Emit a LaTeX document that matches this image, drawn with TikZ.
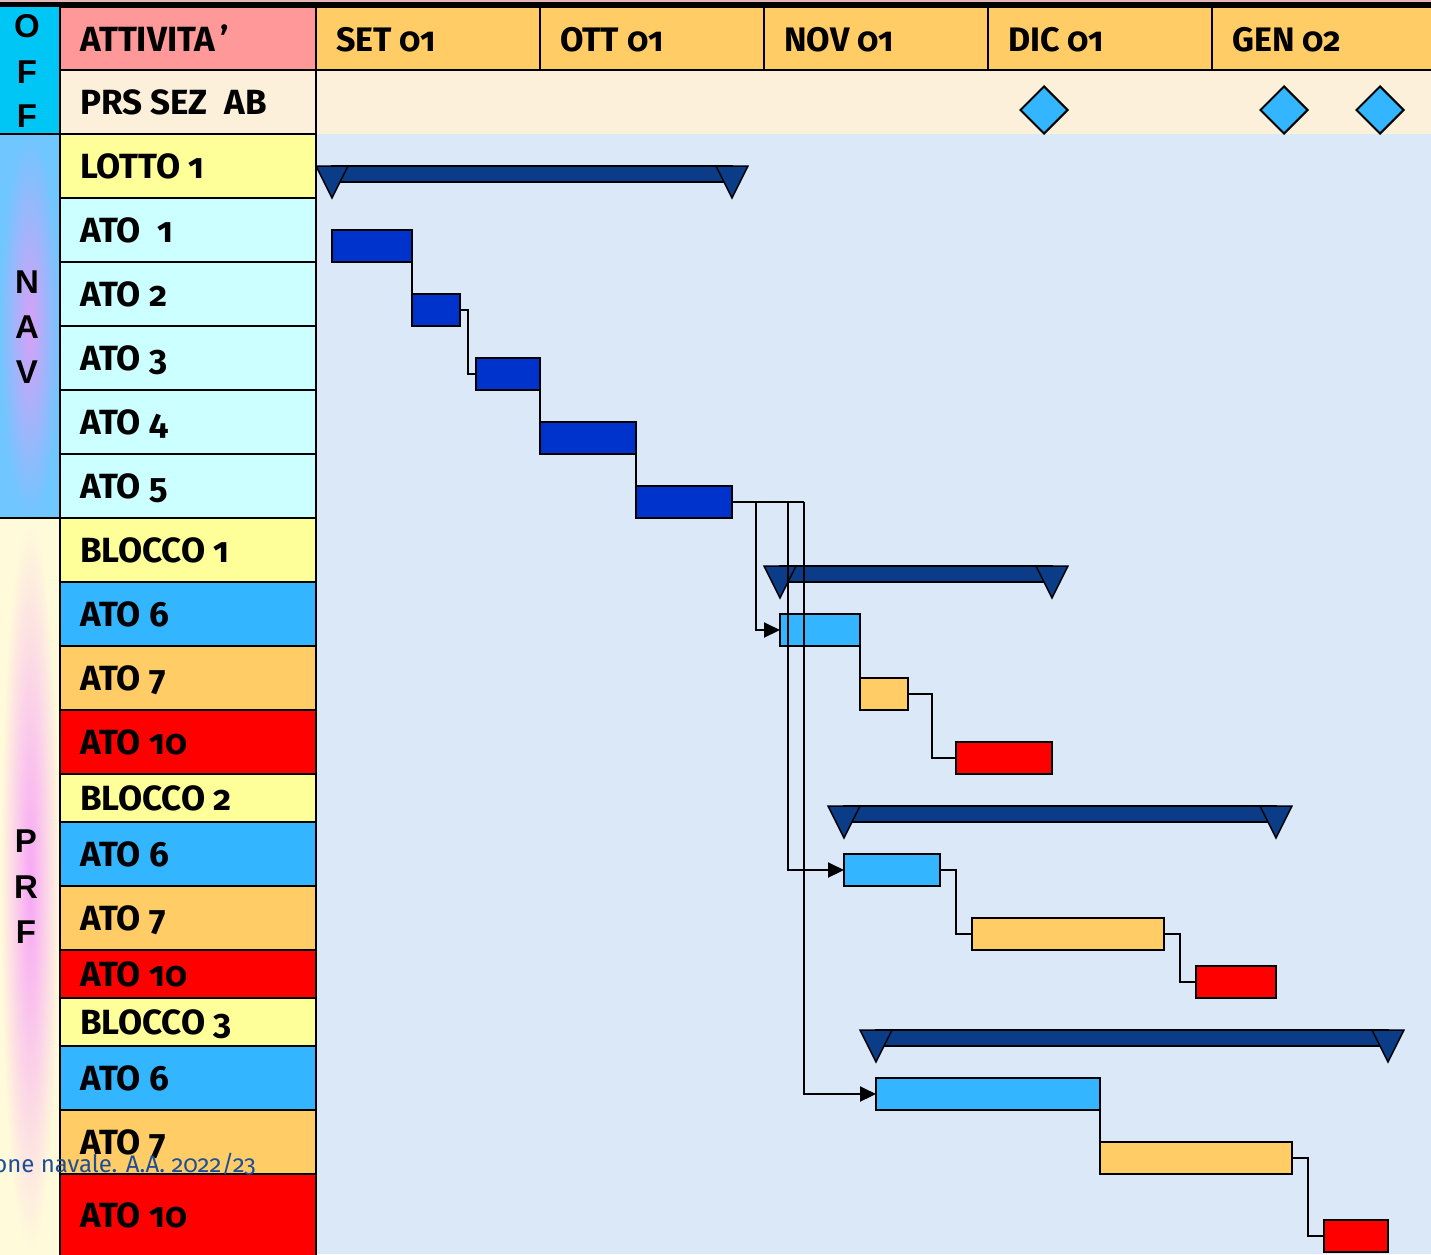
\documentclass[tikz,border=0pt]{standalone}
\usepackage{fontspec}
\usetikzlibrary{arrows.meta,shapes.geometric}
\newfontfamily\labelfont[Numbers=OldStyle]{Fira Sans}
\newfontfamily\sidefont{Liberation Sans}

\definecolor{offcyan}{HTML}{00C6F6}
\definecolor{headpink}{HTML}{FF9999}
\definecolor{monthorange}{HTML}{FFCC66}
\definecolor{prscream}{HTML}{FDF0DA}
\definecolor{groupyellow}{HTML}{FFFF99}
\definecolor{navcell}{HTML}{CCFFFF}
\definecolor{atosix}{HTML}{33B5FF}
\definecolor{atoseven}{HTML}{FFCC66}
\definecolor{atoten}{HTML}{FF0000}
\definecolor{chartbg}{HTML}{DAE8F8}
\definecolor{sumblue}{HTML}{0A3C88}
\definecolor{navbar}{HTML}{0033CC}
\definecolor{navblue}{HTML}{70C6FF}
\definecolor{navviolet}{HTML}{D8A0F6}
\definecolor{prfcream}{HTML}{FFFBDA}
\definecolor{prfpink}{HTML}{F7A6F7}
\definecolor{footblue}{HTML}{1F4E98}
\definecolor{topedge}{HTML}{E4B8B8}

\tikzset{
  cell/.style={draw=black, line width=2.5pt},
  rowlabel/.style={anchor=base west, inner sep=0pt, font=\labelfont\bfseries\fontsize{35}{35}\selectfont},
  monthlabel/.style={anchor=base west, inner sep=0pt, font=\labelfont\bfseries\fontsize{34}{34}\selectfont},
  sideletter/.style={inner sep=0pt, font=\sidefont\bfseries\fontsize{33}{33}\selectfont},
  task/.style={draw=black, line width=2pt, inner sep=0pt, outer sep=0pt,
               minimum height=32pt, anchor=north west},
  sumbar/.style={draw=black, line width=2pt, fill=sumblue, inner sep=0pt, outer sep=0pt,
               minimum height=16pt, anchor=north west},
  sumtip/.style={draw=black, line width=1.5pt, fill=sumblue, line join=miter},
  milestone/.style={diamond, draw=black, line width=2pt, fill=atosix, inner sep=0pt,
               minimum width=48pt, minimum height=48pt},
  link/.style={draw=black, line width=2pt},
  arrowtip/.style={-{Triangle[length=16pt,width=15pt]}},
}

\begin{document}
\begin{tikzpicture}[x=1pt, y=-1pt]
\useasboundingbox (0,0) rectangle (1431,1254);
\clip (0,0) rectangle (1431,1254);

% chart area backgrounds
\fill[chartbg] (316,134) rectangle (1431,1254);
\fill[prscream] (316,70) rectangle (1431,134);

% top edge
\fill[black] (0,0) rectangle (1431,7);
\fill[topedge] (0,0) rectangle (1431,1.5);

% side group strips
\fill[offcyan] (0,7) rectangle (60,134);
\shade[shading=radial, inner color=navviolet, outer color=navblue] (0,134) rectangle (60,518);
\shade[shading=radial, inner color=prfpink, outer color=prfcream] (0,518) rectangle (60,1254);
\draw[cell] (0,134) -- (60,134);
\draw[cell] (0,518) -- (60,518);

\node[sideletter] (offO) at (27,26) {O};
\node[sideletter] (offF1) at (27,72) {F};
\node[sideletter] (offF2) at (27,116) {F};
\node[sideletter] (navN) at (27,282) {N};
\node[sideletter] (navA) at (27,327) {A};
\node[sideletter] (navV) at (27,372) {V};
\node[sideletter] (prfP) at (26,841) {P};
\node[sideletter] (prfR) at (26,887) {R};
\node[sideletter] (prfF) at (26,932) {F};

% header row
\path[cell, fill=headpink] (60,7) rectangle (316,70);
\node[rowlabel] (hact) at (80,51) {ATTIVITA\,’};
\foreach \nm/\xl/\xr/\txt in {mset/316/540/{SET 01}, mott/540/764/{OTT 01},
    mnov/764/988/{NOV 01}, mdic/988/1212/{DIC 01}, mgen/1212/1440/{GEN 02}}{
  \path[cell, fill=monthorange] (\xl,7) rectangle (\xr,70);
  \node[monthlabel] (\nm) at (\xl+20,51) {\txt};
}

% activity column
\foreach \nm/\yt/\yb/\col/\txt in {
    lprs/70/134/prscream/{PRS SEZ\ \ AB},
    llotto/134/198/groupyellow/{LOTTO 1},
    lato1/198/262/navcell/{ATO\ \ 1},
    lato2/262/326/navcell/{ATO 2},
    lato3/326/390/navcell/{ATO 3},
    lato4/390/454/navcell/{ATO 4},
    lato5/454/518/navcell/{ATO 5},
    lbl1/518/582/groupyellow/{BLOCCO 1},
    lbl1a6/582/646/atosix/{ATO 6},
    lbl1a7/646/710/atoseven/{ATO 7},
    lbl1a10/710/774/atoten/{ATO 10},
    lbl2/774/822/groupyellow/{BLOCCO 2},
    lbl2a6/822/886/atosix/{ATO 6},
    lbl2a7/886/950/atoseven/{ATO 7},
    lbl2a10/950/998/atoten/{ATO 10},
    lbl3/998/1046/groupyellow/{BLOCCO 3},
    lbl3a6/1046/1110/atosix/{ATO 6},
    lbl3a7/1110/1174/atoseven/{ATO 7},
    lbl3a10/1174/1256/atoten/{ATO 10}}{
  \path[cell, fill=\col] (60,\yt) rectangle (316,\yb);
  \node[rowlabel] (\nm) at (80,{(\yt+\yb)/2+12}) {\txt};
}
\draw[cell] (60,7) -- (60,1256);

% milestones
\node[milestone] (ms1) at (1044,110) {};
\node[milestone] (ms2) at (1284,110) {};
\node[milestone] (ms3) at (1380,110) {};

% summary bars with end markers
\foreach \nm/\xl/\xr/\yt in {slotto/332/732/166, sbl1/780/1052/566,
    sbl2/844/1276/806, sbl3/876/1388/1030}{
  \node[sumbar, minimum width={\xr-\xl}] (\nm) at (\xl,\yt) {};
  \path[sumtip] (\nm.north west) ++(-16,0) -- ++(32,0) -- ++(-16,32) -- cycle;
  \path[sumtip] (\nm.north east) ++(-16,0) -- ++(32,0) -- ++(-16,32) -- cycle;
}

% task bars
\node[task, fill=navbar, minimum width=80pt] (ato1bar) at (332,230) {};
\node[task, fill=navbar, minimum width=48pt] (ato2bar) at (412,294) {};
\node[task, fill=navbar, minimum width=64pt] (ato3bar) at (476,358) {};
\node[task, fill=navbar, minimum width=96pt] (ato4bar) at (540,422) {};
\node[task, fill=navbar, minimum width=96pt] (ato5bar) at (636,486) {};
\node[task, fill=atosix, minimum width=80pt] (b1ato6) at (780,614) {};
\node[task, fill=atoseven, minimum width=48pt] (b1ato7) at (860,678) {};
\node[task, fill=atoten, minimum width=96pt] (b1ato10) at (956,742) {};
\node[task, fill=atosix, minimum width=96pt] (b2ato6) at (844,854) {};
\node[task, fill=atoseven, minimum width=192pt] (b2ato7) at (972,918) {};
\node[task, fill=atoten, minimum width=80pt] (b2ato10) at (1196,966) {};
\node[task, fill=atosix, minimum width=224pt] (b3ato6) at (876,1078) {};
\node[task, fill=atoseven, minimum width=192pt] (b3ato7) at (1100,1142) {};
\node[task, fill=atoten, minimum width=64pt] (b3ato10) at (1324,1220) {};

% dependency links
\draw[link] (ato1bar.south east) -- (ato2bar.north west);
\draw[link] (ato2bar.east) -- ++(8,0) |- (ato3bar.west);
\draw[link] (ato3bar.south east) -- (ato4bar.north west);
\draw[link] (ato4bar.south east) -- (ato5bar.north west);
\draw[link] (ato5bar.east) -- ++(72,0);
\draw[link, arrowtip] (ato5bar.east) ++(24,0) |- (b1ato6.west);
\draw[link, arrowtip] (ato5bar.east) ++(56,0) |- (b2ato6.west);
\draw[link, arrowtip] (ato5bar.east) ++(72,0) |- (b3ato6.west);
\draw[link] (b1ato6.south east) -- (b1ato7.north west);
\draw[link] (b1ato7.east) -- ++(24,0) |- (b1ato10.west);
\draw[link] (b2ato6.east) -- ++(16,0) |- (b2ato7.west);
\draw[link] (b2ato7.east) -- ++(16,0) |- (b2ato10.west);
\draw[link] (b3ato6.south east) -- (b3ato7.north west);
\draw[link] (b3ato7.east) -- ++(16,0) |- (b3ato10.west);

% footer
\node[anchor=base east, inner sep=0pt, text=footblue,
      font=\labelfont\fontsize{24}{24}\selectfont] (footer) at (256,1172)
      {one navale. A.A. 2022/23};
\end{tikzpicture}
\end{document}
